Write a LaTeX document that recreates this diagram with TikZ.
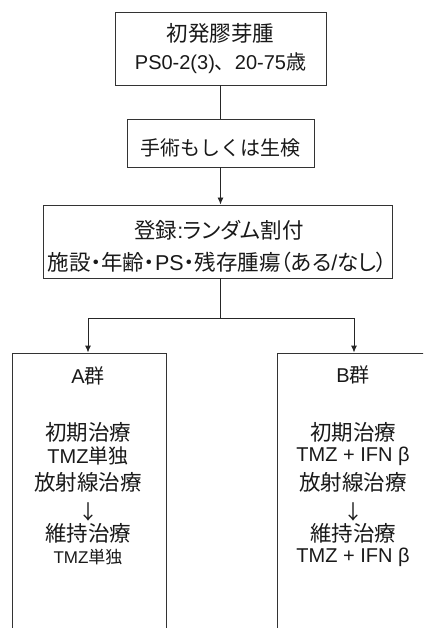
\documentclass[tikz,border=0pt]{standalone}
\usepackage{fontspec}
\setmainfont{Liberation Sans}
\newfontfamily\cjk{Noto Sans CJK JP}
\newfontfamily\cjkp[RawFeature=+palt]{Noto Sans CJK JP}
\usetikzlibrary{arrows.meta}
\newcommand\J[1]{{\cjk #1}}
\newcommand\Jp[1]{{\cjkp #1}}
\begin{document}
\begin{tikzpicture}[x=1pt,y=-1pt,
  box/.style={draw=black!80,line width=0.9pt,inner sep=0pt,fill=white},
  txt/.style={inner sep=0pt,anchor=center,text=black!90,font=\fontsize{20}{24}\selectfont},
  big/.style={inner sep=0pt,anchor=center,text=black!90,font=\fontsize{21.5}{24}\selectfont},
  small/.style={inner sep=0pt,anchor=center,text=black!90,font=\fontsize{17}{20}\selectfont},
  conn/.style={draw=black!85,line width=0.9pt},
  arr/.style={conn,-{Latex[length=7pt,width=6pt]}}]
\useasboundingbox (0,0) rectangle (423,628);
\clip (0,0) rectangle (423,628);
% boxes
\node[box,minimum width=211pt,minimum height=73pt] (box1) at (220.5,48.5) {};
\node[box,minimum width=187pt,minimum height=48pt] (box2) at (220.5,143) {};
\node[box,minimum width=349pt,minimum height=73pt] (box3) at (217.5,241.5) {};
\node[box,minimum width=154pt,minimum height=307pt] (boxA) at (89,506.5) {};
\node[box,minimum width=154pt,minimum height=307pt] (boxB) at (354,506.5) {};
% texts
\node[big] (t11) at (220.5,33) {\J{初発膠芽腫}};
\node[txt] (t12) at (220.5,63) {PS0-2(3)\J{、}20-75\J{歳}};
\node[txt] (t2) at (220.5,148) {\J{手術もしくは生検}};
\node[big] (t31) at (219,230) {\Jp{登録}:\Jp{ランダム割付}};
\node[big] (t32) at (217.5,262) {\Jp{施設・年齢・}PS\Jp{・残存腫瘍（ある}/\Jp{なし）}};
% group A
\node[txt] (a0) at (88,376) {A\J{群}};
\node[big] (a1) at (88,432) {\J{初期治療}};
\node[txt] (a2) at (88,456) {TMZ\J{単独}};
\node[big] (a3) at (88,482) {\J{放射線治療}};
\node[txt] (a4) at (88,512) {\J{↓}};
\node[big] (a5) at (88,533) {\J{維持治療}};
\node[small] (a6) at (88,557) {TMZ\J{単独}};
% group B
\node[txt] (b0) at (353,375) {B\J{群}};
\node[big] (b1) at (353,432) {\J{初期治療}};
\node[txt] (b2) at (353,456) {TMZ + IFN β};
\node[big] (b3) at (353,482) {\J{放射線治療}};
\node[txt] (b4) at (353,512) {\J{↓}};
\node[big] (b5) at (353,533) {\J{維持治療}};
\node[txt] (b6) at (353,557) {TMZ + IFN β};
% connectors
\draw[conn] (box1.south) -- (box2.north);
\draw[arr] (box2.south) -- (box2.south |- box3.north);
\coordinate (split) at (220,318);
\coordinate (la) at (88,318);
\coordinate (lb) at (354,318);
\draw[conn] (split |- box3.south) -- (split);
\draw[conn] (la) -- (lb);
\draw[arr] (la) -- (la |- boxA.north);
\draw[arr] (lb) -- (lb |- boxB.north);
\end{tikzpicture}
\end{document}
